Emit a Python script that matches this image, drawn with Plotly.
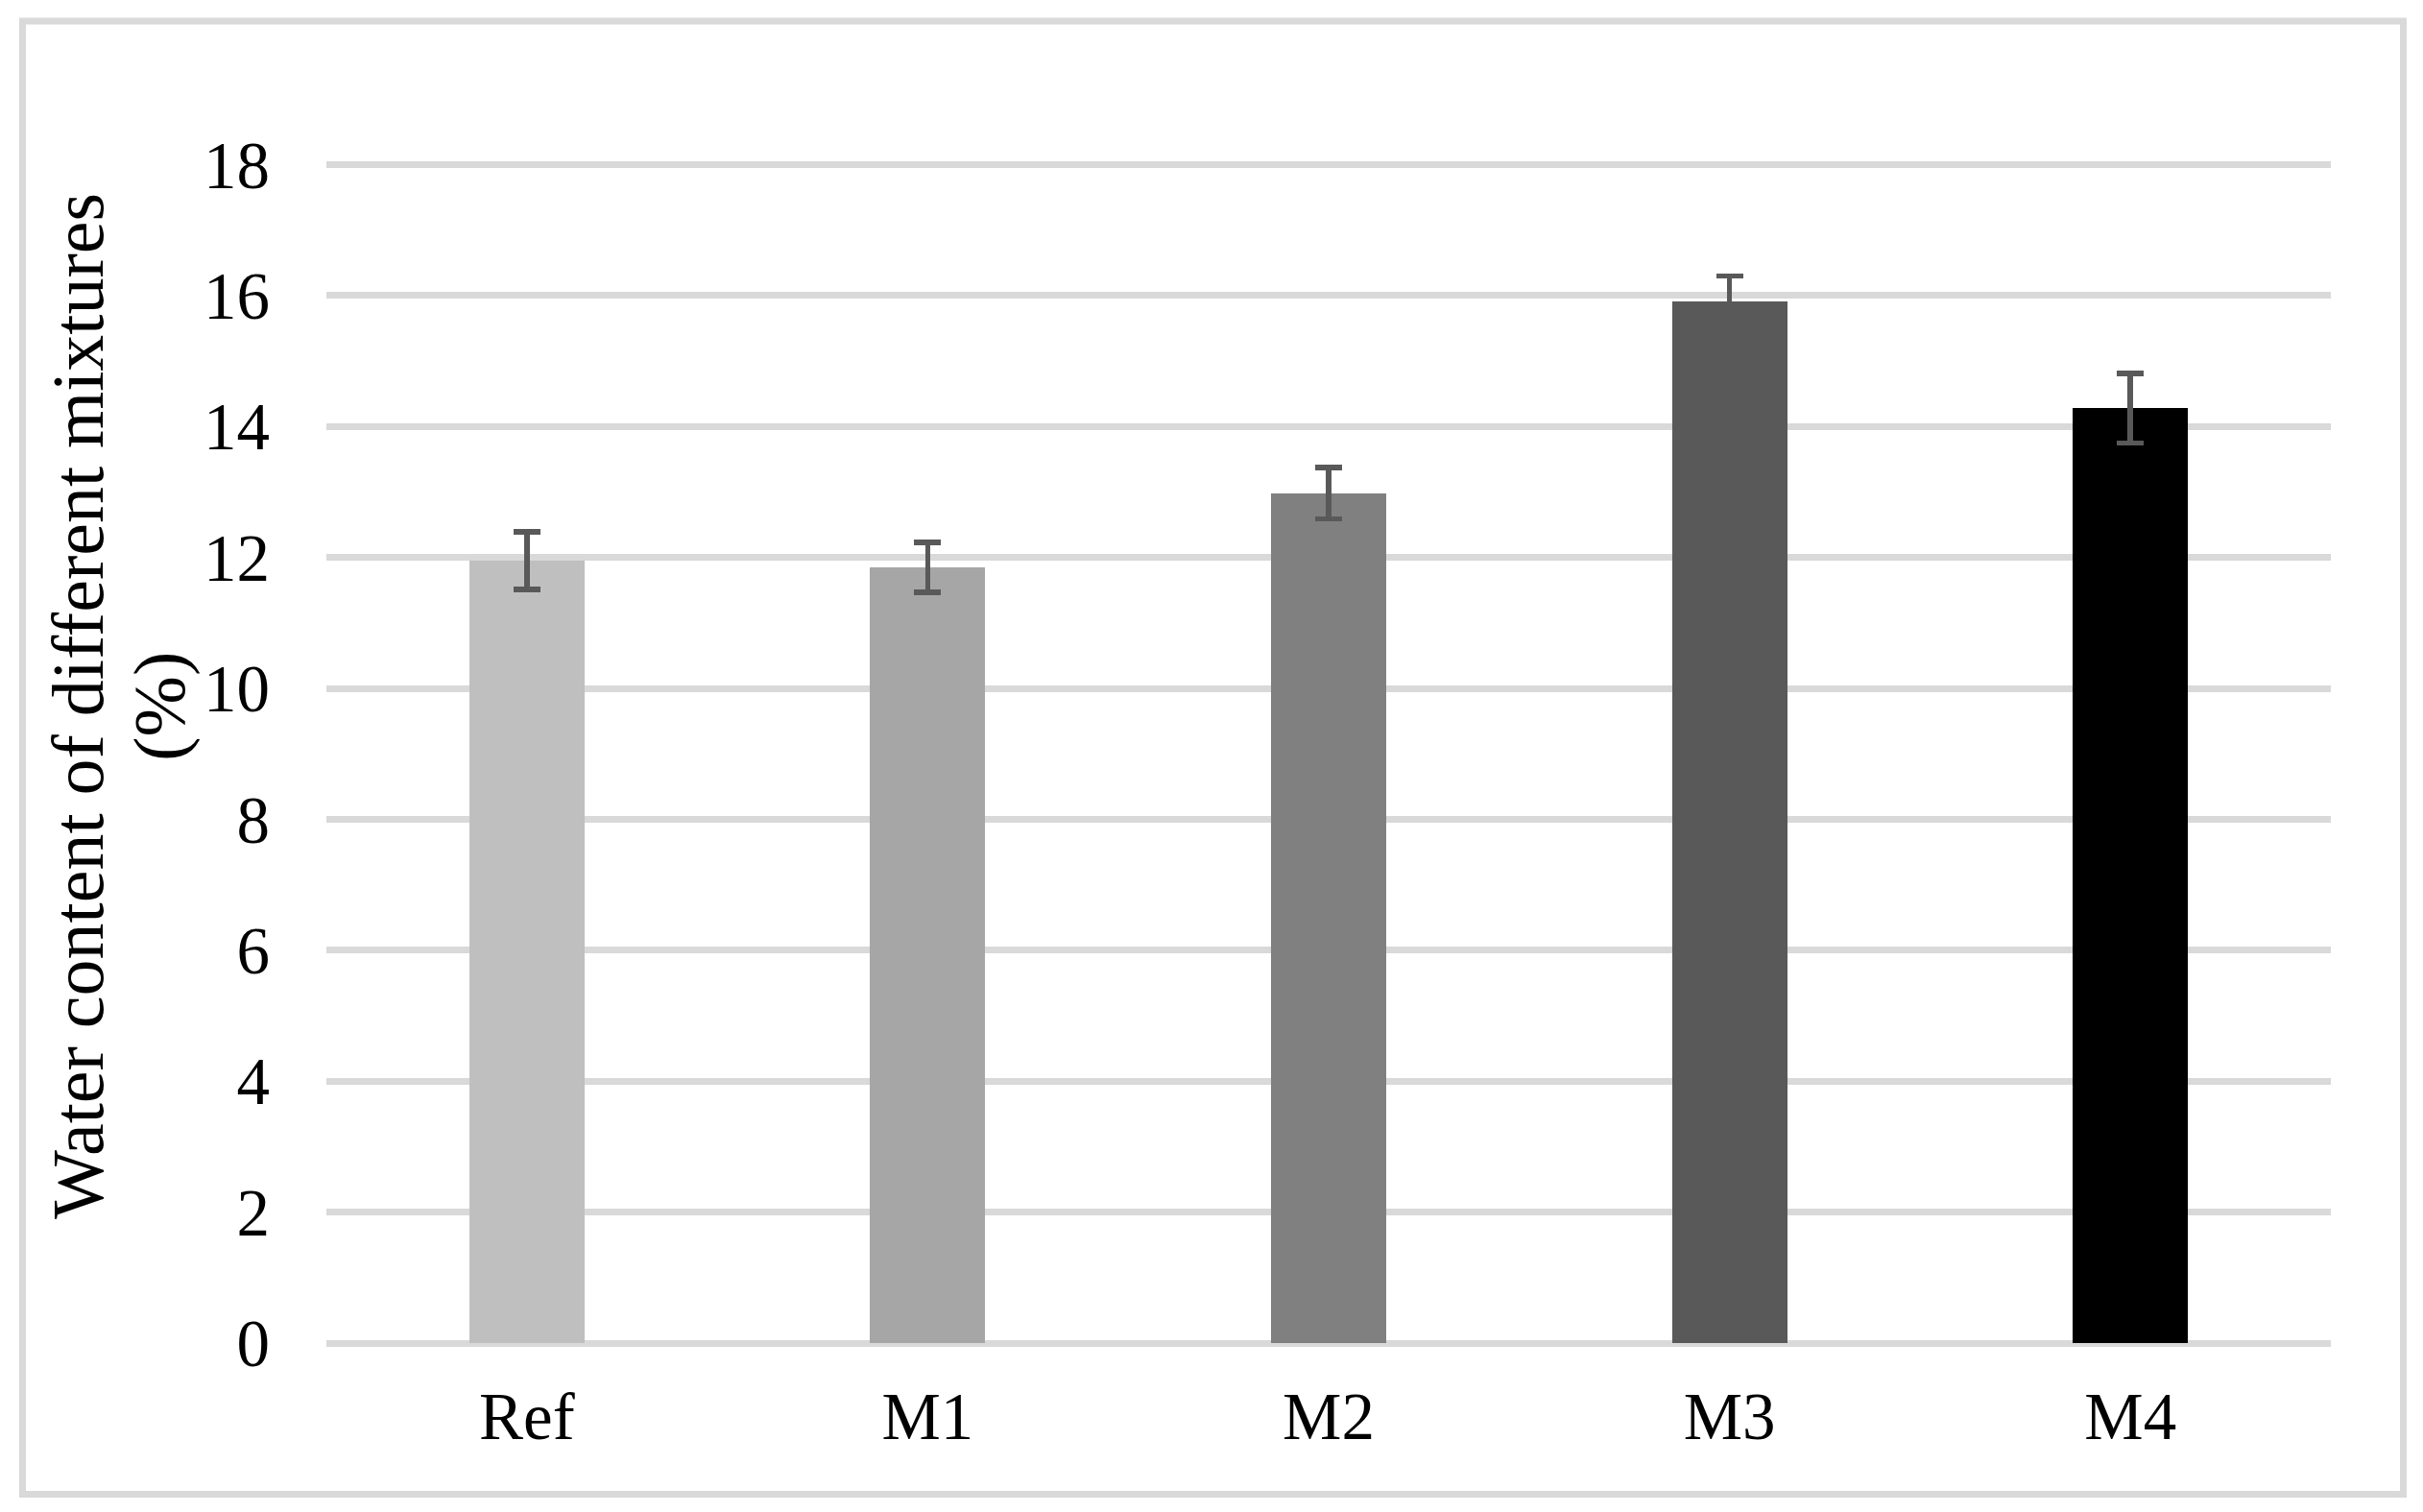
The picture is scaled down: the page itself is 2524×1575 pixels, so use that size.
import plotly.graph_objects as go

categories = ["Ref", "M1", "M2", "M3", "M4"]
values = [11.95, 11.85, 12.98, 15.91, 14.28]
errors = [0.44, 0.38, 0.39, 0.39, 0.53]
bar_colors = ["#bfbfbf", "#a6a6a6", "#808080", "#595959", "#000000"]
y_ticks = [0, 2, 4, 6, 8, 10, 12, 14, 16, 18]
title_lines = ["Water content of different mixtures", "(%)"]

FONT = "Liberation Serif"

W, H = 2524, 1575
Y0_PX, Y18_PX = 1399.5, 171.5
YMAX = 18.05
unit = (Y0_PX - Y18_PX) / 18
L, R = 340, 96
B = H - Y0_PX
T = Y0_PX - unit * YMAX
pw, ph = W - L - R, H - T - B

def px_x(px):
    return (px - L) / pw

def px_y(py):
    return (H - B - py) / ph

fig = go.Figure()
fig.add_trace(go.Bar(
    x=categories, y=values,
    width=0.287,
    marker=dict(color=bar_colors, line=dict(width=0)),
    error_y=dict(type="data", array=errors, visible=True,
                 color="#595959", thickness=5.5, width=14),
    showlegend=False,
))

title_x_px = [81, 167]
annotations = [
    dict(text=txt, textangle=-90, xref="paper", yref="paper",
         x=px_x(xp), y=px_y(736), xanchor="center", yanchor="middle",
         showarrow=False, font=dict(family=FONT, size=76, color="black"))
    for txt, xp in zip(title_lines, title_x_px)
]

fig.update_layout(
    width=W, height=H,
    margin=dict(l=L, r=R, t=T, b=B, pad=0),
    paper_bgcolor="white", plot_bgcolor="white",
    font=dict(family=FONT, size=69, color="black"),
    bargap=0,
    xaxis=dict(showgrid=False, showline=False, zeroline=False,
               ticks="", ticklabelstandoff=30, automargin=False,
               tickfont=dict(family=FONT, size=69, color="black")),
    yaxis=dict(range=[0, YMAX], tickvals=y_ticks, showgrid=True,
               gridcolor="#d9d9d9", gridwidth=7,
               zeroline=True, zerolinecolor="#d9d9d9", zerolinewidth=7,
               showline=False, ticks="", ticklabelstandoff=58, automargin=False,
               tickfont=dict(family=FONT, size=69, color="black")),
    annotations=annotations,
    shapes=[dict(
        type="rect", xref="paper", yref="paper",
        x0=px_x(23.5), x1=px_x(2503.5), y0=px_y(1557), y1=px_y(22),
        line=dict(color="#d9d9d9", width=7), fillcolor="rgba(0,0,0,0)",
        layer="below",
    )],
)

fig.write_html("out.html", config={"displayModeBar": False},
               post_script="document.body.style.margin='0';")
